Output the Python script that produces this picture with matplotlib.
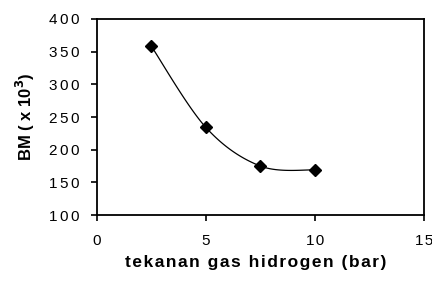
import numpy as np
import matplotlib.pyplot as plt

plt.rcParams['font.family'] = ['Liberation Sans', 'DejaVu Sans']

# data
tekanan = [2.5, 5, 7.5, 10]
bm = [358, 234, 175, 169]
xticks = [0, 5, 10, 15]
yticks = [100, 150, 200, 250, 300, 350, 400]

HAIR = '\u200a'


def spaced(s, n=1):
    # the original text is drawn wide, so pad letters with hair spaces
    return (HAIR * n).join(s)


def smooth(x, y, n=40):
    # Excel-like smoothed line: cubic bezier through the points (Catmull-Rom)
    x = np.asarray(x, float)
    y = np.asarray(y, float)
    px = np.concatenate([[x[0]], x, [x[-1]]])
    py = np.concatenate([[y[0]], y, [y[-1]]])
    xs, ys = [], []
    t = np.linspace(0, 1, n)
    for i in range(1, len(px) - 2):
        p0 = np.array([px[i], py[i]])
        p3 = np.array([px[i + 1], py[i + 1]])
        p1 = p0 + (np.array([px[i + 1], py[i + 1]]) - np.array([px[i - 1], py[i - 1]])) / 6
        p2 = p3 - (np.array([px[i + 2], py[i + 2]]) - np.array([px[i], py[i]])) / 6
        b = ((1 - t) ** 3)[:, None] * p0 + (3 * (1 - t) ** 2 * t)[:, None] * p1 \
            + (3 * (1 - t) * t ** 2)[:, None] * p2 + (t ** 3)[:, None] * p3
        xs.extend(b[:, 0])
        ys.extend(b[:, 1])
    return xs, ys


fig = plt.figure(figsize=(4.32, 2.83), dpi=100)
ax = fig.add_axes([0.2245, 0.240, 0.7565, 0.693])

sx, sy = smooth(tekanan, bm)
ax.plot(sx, sy, color='black', lw=0.9)
ax.plot(tekanan, bm, linestyle='none', marker='D', color='black', markersize=6.5)

ax.set_xlim(0, 15)
ax.set_ylim(100, 400)
ax.set_xticks(xticks)
ax.set_xticklabels([spaced(str(v), 1) for v in xticks])
ax.set_yticks(yticks)
ax.set_yticklabels([spaced(str(v), 2) for v in yticks])
ax.tick_params(direction='out', length=4.5, width=1.2, labelsize=11, colors='black')
ax.tick_params(axis='x', pad=9)
ax.tick_params(axis='y', pad=8)
for s in ax.spines.values():
    s.set_linewidth(1.3)

ax.set_xlabel(spaced('tekanan gas hidrogen (bar)'), fontsize=12.5, fontweight='bold')
ax.xaxis.set_label_coords(0.486, -0.205)
ax.set_ylabel(r'BM ( x 10$^{\mathbf{3}}$)', fontsize=12, fontweight='bold')
ax.yaxis.set_label_coords(-0.183, 0.5)

fig.savefig('out.png', dpi=100)
